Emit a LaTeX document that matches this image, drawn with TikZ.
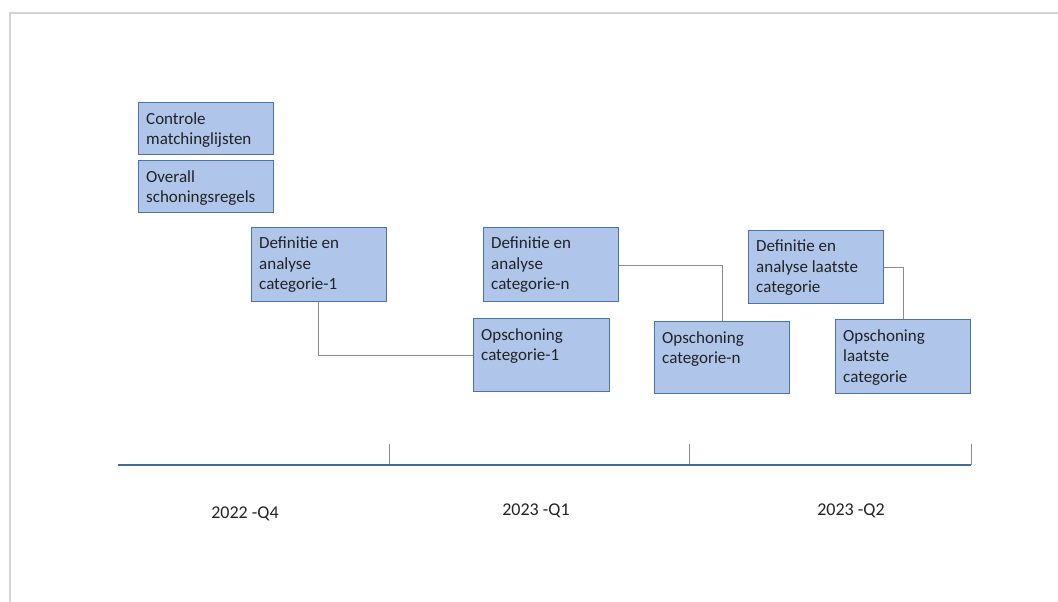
\documentclass[tikz,border=0pt]{standalone}
\usepackage{fontspec}
\setmainfont{Carlito}
\definecolor{boxfill}{HTML}{AFC6EA}
\definecolor{boxline}{HTML}{4A73A8}
\definecolor{conn}{HTML}{8C8C8C}
\definecolor{axis}{HTML}{3F6E9E}
\definecolor{txt}{HTML}{222222}
\definecolor{frame}{HTML}{D4D4D8}
\begin{document}
\begin{tikzpicture}[x=1pt,y=-1pt,
  taskbox/.style={draw=boxline,fill=boxfill,line width=1.3pt,inner sep=0pt,anchor=north west,minimum width=135pt},
  tasktext/.style={anchor=north west,inner sep=0pt,align=left,text=txt,font=\fontsize{17}{20.5}\selectfont},
  link/.style={draw=conn,line width=0.8pt},
  quarter/.style={text=txt,font=\fontsize{18}{20}\selectfont,inner sep=0pt}]
\useasboundingbox (0,0) rectangle (1058,602);
% frame
\draw[frame,line width=1.2pt] (10,602) -- (10,13) -- (1058,13);
% boxes
\node[taskbox,minimum height=52pt] (c1) at (138,102) {};
\node[taskbox,minimum height=52pt] (c2) at (138,160) {};
\node[taskbox,minimum height=74pt] (d1) at (251,227) {};
\node[taskbox,minimum height=73pt,minimum width=136pt] (o1) at (473,318) {};
\node[taskbox,minimum height=74pt] (dn) at (483,227) {};
\node[taskbox,minimum height=72pt] (on) at (654,321) {};
\node[taskbox,minimum height=73pt] (dl) at (748,230) {};
\node[taskbox,minimum height=74pt] (ol) at (835,319) {};
% texts
\node[tasktext] (c1t) at ([xshift=8pt,yshift=-10pt]c1.north west) {Controle\\matchinglijsten};
\node[tasktext] (c2t) at ([xshift=8pt,yshift=-10pt]c2.north west) {Overall\\schoningsregels};
\node[tasktext] (d1t) at ([xshift=8pt,yshift=-10pt]d1.north west) {Definitie en\\analyse\\categorie-1};
\node[tasktext] (o1t) at ([xshift=8pt,yshift=-10pt]o1.north west) {Opschoning\\categorie-1};
\node[tasktext] (dnt) at ([xshift=8pt,yshift=-10pt]dn.north west) {Definitie en\\analyse\\categorie-n};
\node[tasktext] (ont) at ([xshift=8pt,yshift=-10pt]on.north west) {Opschoning\\categorie-n};
\node[tasktext] (dlt) at ([xshift=8pt,yshift=-10pt]dl.north west) {Definitie en\\analyse laatste\\categorie};
\node[tasktext] (olt) at ([xshift=8pt,yshift=-10pt]ol.north west) {Opschoning\\laatste\\categorie};
% connectors
\draw[link] (d1.south west) ++(67pt,0) coordinate (d1b) -- (d1b |- 0,355) coordinate (k1) -- (k1 -| o1.west);
\draw[link] (dn.east |- 0,265) coordinate (dnr) -- (722,265) coordinate (k2) -- (k2 |- on.north);
\draw[link] (dl.east |- 0,267) coordinate (dlr) -- (903,267) coordinate (k3) -- (k3 |- ol.north);
% timeline
\coordinate (ta) at (118,465);
\coordinate (tb) at (971,465);
\coordinate (t1) at (389,465);
\coordinate (t2) at (689,465);
\draw[conn,line width=0.8pt] (t1) -- ++(0,21pt);
\draw[conn,line width=0.8pt] (t2) -- ++(0,21pt);
\draw[conn,line width=0.8pt] (tb) -- ++(0,21pt);
\draw[axis,line width=2pt] (ta) -- (tb);
\node[quarter] (q4) at (245,514) {2022 -Q4};
\node[quarter] (q1) at (536,511) {2023 -Q1};
\node[quarter] (q2) at (851,511) {2023 -Q2};
\end{tikzpicture}
\end{document}
